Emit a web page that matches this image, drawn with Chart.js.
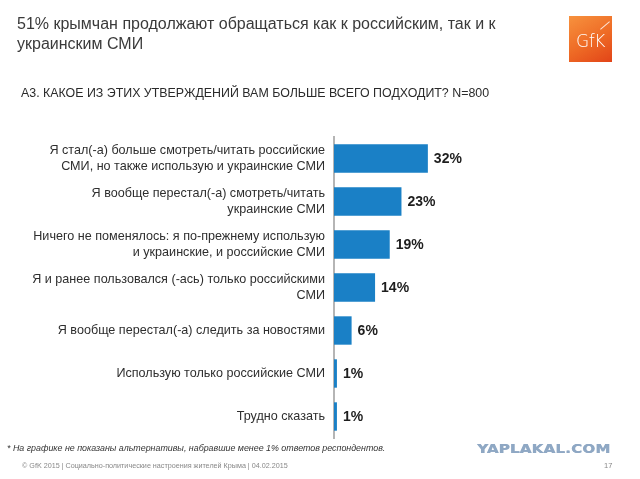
<!DOCTYPE html>
<html>
<head>
<meta charset="utf-8">
<script src="https://cdn.jsdelivr.net/npm/chart.js@4"></script>
<style>
  html, body { margin:0; padding:0; background:#fff; }
  #wrap { position:relative; width:640px; height:479px; overflow:hidden; background:#fff; font-family:"Liberation Sans", Arial, sans-serif; }
  #c { position:absolute; left:0; top:0; }
  .t { position:absolute; white-space:nowrap; }
  #title { left:17px; top:14px; font-size:16px; line-height:20px; color:#3a3a3a; }
  #sub { left:21px; top:86px; font-size:12.4px; color:#2a2a2a; }
  #logo { left:569px; top:16px; width:43px; height:46px; background:linear-gradient(150deg,#f7923e 0%,#ee6a25 55%,#e24418 100%); overflow:hidden; }
  #logo span { position:absolute; left:7px; top:15px; color:#fff; font-size:17px; font-family:"DejaVu Sans", sans-serif; font-weight:300; letter-spacing:-0.5px; }
  #logo i { position:absolute; left:30px; top:9px; width:12px; height:1px; background:rgba(255,255,255,0.8); transform:rotate(-40deg); }
  #note { left:7px; top:443px; font-size:8.9px; font-style:italic; color:#333; }
  #foot { left:22px; top:461px; font-size:7.2px; color:#888; }
  #page { left:604px; top:461px; font-size:7.5px; color:#888; }
  #wm { left:477px; top:442px; font-size:12px; font-weight:bold; font-family:"DejaVu Sans", sans-serif; color:#8fa8c4; transform:scaleX(1.25); transform-origin:left top; letter-spacing:0.2px; text-shadow:0.5px 0 0 #8fa8c4; }
</style>
</head>
<body>
<div id="wrap">
  <canvas id="c" width="640" height="479"></canvas>
  <div class="t" id="title">51% крымчан продолжают обращаться как к российским, так и к<br>украинским СМИ</div>
  <div class="t" id="logo"><i></i><span>GfK</span></div>
  <div class="t" id="sub">А3. КАКОЕ ИЗ ЭТИХ УТВЕРЖДЕНИЙ ВАМ БОЛЬШЕ ВСЕГО ПОДХОДИТ? N=800</div>
  <div class="t" id="note">* На графике не показаны альтернативы, набравшие менее 1% ответов респондентов.</div>
  <div class="t" id="foot">© GfK 2015 | Социально-политические настроения жителей Крыма | 04.02.2015</div>
  <div class="t" id="page">17</div>
  <div class="t" id="wm">YAPLAKAL.COM</div>
</div>
<script>
const categories = [
  ["Я стал(-а) больше смотреть/читать российские", "СМИ, но также использую и украинские СМИ"],
  ["Я вообще перестал(-а) смотреть/читать", "украинские СМИ"],
  ["Ничего не поменялось: я по-прежнему использую", "и украинские, и российские СМИ"],
  ["Я и ранее пользовался (-ась) только российскими", "СМИ"],
  "Я вообще перестал(-а) следить за новостями",
  "Использую только российские СМИ",
  "Трудно сказать"
];
const values = [32, 23, 19, 14, 6, 1, 1];
const valueLabels = ["32%", "23%", "19%", "14%", "6%", "1%", "1%"];

const valueLabelPlugin = {
  id: 'valueLabels',
  afterDatasetsDraw(chart) {
    const ctx = chart.ctx;
    const meta = chart.getDatasetMeta(0);
    ctx.save();
    ctx.font = 'bold 14px "Liberation Sans", Arial, sans-serif';
    ctx.fillStyle = '#1e1e1e';
    ctx.textAlign = 'left';
    ctx.textBaseline = 'middle';
    meta.data.forEach((bar, i) => {
      ctx.fillText(valueLabels[i], bar.x + 6, bar.y + 1);
    });
    ctx.restore();
  }
};

new Chart(document.getElementById('c'), {
  type: 'bar',
  data: {
    labels: categories,
    datasets: [{
      data: values,
      backgroundColor: '#1a80c6',
      borderWidth: 0,
      categoryPercentage: 1,
      barPercentage: 0.66
    }]
  },
  options: {
    indexAxis: 'y',
    responsive: false,
    animation: false,
    layout: { padding: { left: 0, right: 130, top: 137, bottom: 41 } },
    plugins: { legend: { display: false }, tooltip: { enabled: false } },
    scales: {
      x: { display: false, min: 0, max: 60 },
      y: {
        afterFit(scale) { scale.width = 334; },
        grid: { display: false },
        border: { display: true, color: '#b5b5b5', width: 2 },
        ticks: {
          padding: 1,
          color: '#2e2e2e',
          font: { family: '"Liberation Sans", Arial, sans-serif', size: 12.6, lineHeight: 1.2 }
        }
      }
    }
  },
  plugins: [valueLabelPlugin]
});
</script>
</body>
</html>
